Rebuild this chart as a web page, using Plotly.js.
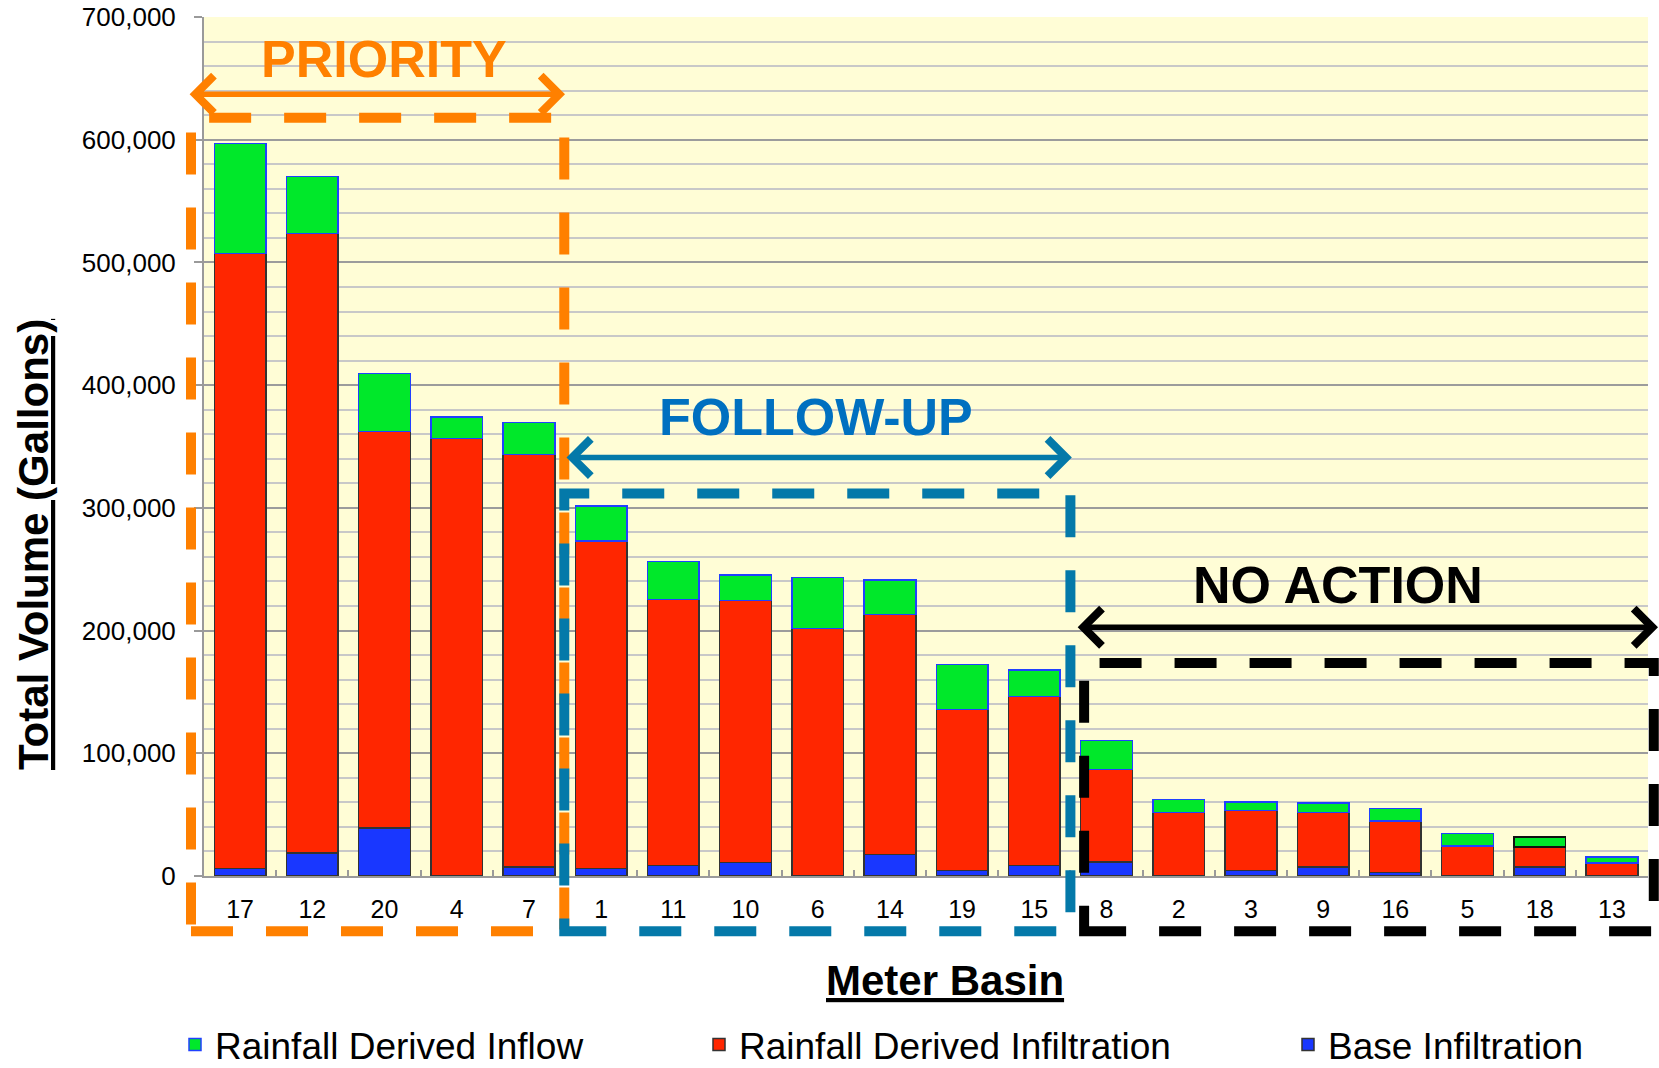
<!DOCTYPE html>
<html><head><meta charset="utf-8">
<script src="https://cdn.plot.ly/plotly-3.0.1.min.js"></script>
<style>html,body{margin:0;padding:0;background:#fff}</style>
</head><body>
<div id="chart" style="width:1659px;height:1068px"></div>
<script>
// ---- data ----
const basins = ['17','12','20','4','7','1','11','10','6','14','19','15','8','2','3','9','16','5','18','13'];
const baseInfiltration = [6000,18700,39000,0,7300,6200,8600,11100,0,17400,4600,8600,11500,0,4600,7300,2700,0,7300,0];
const rainfallDerivedInfiltration = [501200,504800,323300,356400,336000,266700,216800,213500,201500,195800,131200,137800,75400,51600,48900,44300,42000,24400,16300,10800];
const rainfallDerivedInflow = [89600,46700,47100,17600,26100,28600,31000,20600,41600,28000,36400,21400,23500,10600,6700,7800,10400,10100,8100,4600];
const seriesNames = ['Rainfall Derived Inflow','Rainfall Derived Infiltration','Base Infiltration'];
const groupLabels = ['PRIORITY','FOLLOW-UP','NO ACTION'];
const xTitle = 'Meter Basin';
const yTitle = 'Total Volume (Gallons)';

// ---- layout constants ----
const W = 1659, H = 1068, ML = 204, MR = 11, MT = 17, MB = 192;
const PW = W - ML - MR, PH = H - MT - MB;
const YMAX = 700000, N = basins.length;
const FONT = 'Liberation Sans, Arial, sans-serif';
const ORANGE = '#FF8000', BLUE_L = '#0479A9', BLUE_T = '#0070C0', BLACK = '#000000';
const GREEN = '#00E82A', RED = '#FF2600', BLUE = '#1937FF';

const ux = u => u / N;              // category units -> paper
const vy = v => v / YMAX;           // value -> paper
const pxX = p => (p - ML) / PW;     // pixel -> paper
const pxY = p => (H - MB - p) / PH;

const traces = [
  {type:'bar', name: seriesNames[2], x: basins, y: baseInfiltration, legend:'legend3',
   marker:{color: BLUE, line:{color:'#333333', width:1.5}}},
  {type:'bar', name: seriesNames[1], x: basins, y: rainfallDerivedInfiltration, legend:'legend2',
   marker:{color: RED, line:{color:'#333333', width:1.5}}},
  {type:'bar', name: seriesNames[0], x: basins, y: rainfallDerivedInflow, legend:'legend',
   marker:{color: GREEN, line:{color: basins.map(b => b === '18' ? '#111111' : '#2040FF'), width:1.5}}}
];

// group boxes (category units from left plot edge, values)
const boxes = [
  {u0:-0.18, u1:4.99, vTop:618000, color:ORANGE},
  {u0:4.99, u1:12.0, vTop:311700, color:BLUE_L},
  {u0:12.19, u1:20.08, vTop:173500, color:BLACK}
];
const arrows = [
  {u0:-0.22, u1:5.0, v:637000, color:ORANGE},
  {u0:5.0, u1:12.02, v:341000, color:BLUE_L},
  {u0:12.08, u1:20.14, v:202700, color:BLACK}
];
const labelsPos = [
  {u:2.49, v:666000, color:ORANGE},
  {u:8.47, v:374000, color:BLUE_T},
  {u:15.7, v:237000, color:BLACK}
];
const vBottom = -45000;

const shapes = boxes.map(b => ({
  type:'rect', xref:'paper', yref:'paper', layer:'above',
  x0: ux(b.u0), x1: ux(b.u1), y0: vy(vBottom), y1: vy(b.vTop),
  line:{color:b.color, width:10, dash:'42px,33px'}
}));

const annotations = [];
arrows.forEach(a => {
  annotations.push({
    xref:'paper', yref:'paper', x: ux(a.u1), y: vy(a.v),
    axref:'pixel', ayref:'pixel', ax: (ux(a.u0) - ux(a.u1)) * PW, ay: 0,
    text:'', showarrow:true, arrowside:'end+start', arrowhead:4, arrowsize:1.3,
    arrowwidth:5.5, arrowcolor:a.color, standoff:0, startstandoff:0
  });
});
labelsPos.forEach((l, i) => {
  annotations.push({
    xref:'paper', yref:'paper', x: ux(l.u), y: vy(l.v), xanchor:'center', yanchor:'middle',
    text: groupLabels[i], showarrow:false,
    font:{family:FONT, size:52, color:l.color, weight:'bold'}
  });
});
// axis titles (placed as annotations to match original offsets)
annotations.push({
  xref:'paper', yref:'paper', x: pxX(33), y: pxY(545), xanchor:'center', yanchor:'middle',
  text:'<u>' + yTitle + '</u>', textangle:-90, showarrow:false,
  font:{family:FONT, size:42, color:'#000', weight:'bold'}
});
annotations.push({
  xref:'paper', yref:'paper', x: pxX(945), y: pxY(980), xanchor:'center', yanchor:'middle',
  text:'<u>' + xTitle + '</u>', showarrow:false,
  font:{family:FONT, size:42, color:'#000', weight:'bold'}
});

const legendBase = {orientation:'h', xanchor:'left', yanchor:'middle', y: pxY(1045),
  font:{family:FONT, size:37, color:'#000'}, bgcolor:'rgba(0,0,0,0)', itemwidth:30};

const layout = {
  width:W, height:H, margin:{l:ML, r:MR, t:MT, b:MB, autoexpand:false},
  paper_bgcolor:'#FFFFFF', plot_bgcolor:'#FFFDD6',
  barmode:'stack', bargap:0.284,
  font:{family:FONT, color:'#000'},
  showlegend:true,
  legend: Object.assign({}, legendBase, {x: pxX(175)}),
  legend2: Object.assign({}, legendBase, {x: pxX(699)}),
  legend3: Object.assign({}, legendBase, {x: pxX(1288)}),
  xaxis:{type:'category', showline:true, linecolor:'#9a9a9a', linewidth:2,
    ticks:'inside', tickson:'boundaries', ticklen:6, tickwidth:2, tickcolor:'#9a9a9a',
    showgrid:false, tickfont:{family:FONT, size:25, color:'#000'}, ticklabelstandoff:10},
  yaxis:{range:[0, YMAX], dtick:100000, tickformat:',d', showline:true, linecolor:'#9a9a9a', linewidth:2,
    ticks:'outside', ticklen:8, tickwidth:2, tickcolor:'#9a9a9a', zeroline:false,
    showgrid:true, gridcolor:'#9c9c9c', gridwidth:2,
    minor:{dtick:20000, showgrid:true, gridcolor:'#c8c8c8', gridwidth:2, ticks:''},
    tickfont:{family:FONT, size:26, color:'#000'}, ticklabelstandoff:13},
  shapes: shapes,
  annotations: annotations
};

Plotly.newPlot('chart', traces, layout, {displayModeBar:false, staticPlot:true});
</script>
</body></html>
